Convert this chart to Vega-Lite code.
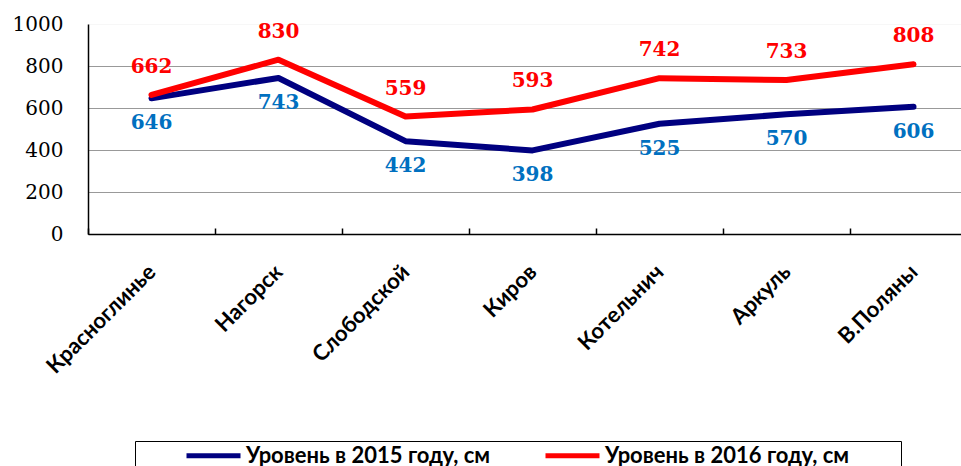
{
  "$schema": "https://vega.github.io/schema/vega-lite/v6.json",
  "autosize": {"type": "none"},
  "width": 873,
  "height": 210,
  "padding": {"left": 88, "top": 24, "right": 0, "bottom": 232},
  "background": "white",
  "config": {"view": {"stroke": null}},
  "data": {
    "values": [
      {"city": "Красноглинье", "year": 2015, "series": "Уровень в 2015 году, см", "value": 646},
      {"city": "Нагорск", "year": 2015, "series": "Уровень в 2015 году, см", "value": 743},
      {"city": "Слободской", "year": 2015, "series": "Уровень в 2015 году, см", "value": 442},
      {"city": "Киров", "year": 2015, "series": "Уровень в 2015 году, см", "value": 398},
      {"city": "Котельнич", "year": 2015, "series": "Уровень в 2015 году, см", "value": 525},
      {"city": "Аркуль", "year": 2015, "series": "Уровень в 2015 году, см", "value": 570},
      {"city": "В.Поляны", "year": 2015, "series": "Уровень в 2015 году, см", "value": 606},
      {"city": "Красноглинье", "year": 2016, "series": "Уровень в 2016 году, см", "value": 662},
      {"city": "Нагорск", "year": 2016, "series": "Уровень в 2016 году, см", "value": 830},
      {"city": "Слободской", "year": 2016, "series": "Уровень в 2016 году, см", "value": 559},
      {"city": "Киров", "year": 2016, "series": "Уровень в 2016 году, см", "value": 593},
      {"city": "Котельнич", "year": 2016, "series": "Уровень в 2016 году, см", "value": 742},
      {"city": "Аркуль", "year": 2016, "series": "Уровень в 2016 году, см", "value": 733},
      {"city": "В.Поляны", "year": 2016, "series": "Уровень в 2016 году, см", "value": 808}
    ]
  },
  "encoding": {
    "x": {
      "field": "city",
      "type": "nominal",
      "sort": null,
      "bandPosition": 0.5,
      "scale": {"type": "band", "range": [0, 889], "paddingInner": 0, "paddingOuter": 0},
      "axis": {
        "title": null,
        "labelAngle": -45,
        "labelAlign": "right",
        "labelBaseline": "middle",
        "labelFont": "Lato",
        "labelFontWeight": "bold",
        "labelFontSize": 22,
        "labelColor": "black",
        "labelPadding": 40,
        "labelLimit": 300,
        "tickBand": "extent",
        "tickSize": -6,
        "tickColor": "black",
        "tickWidth": 1.5,
        "domainColor": "black",
        "domainWidth": 1.5,
        "grid": false
      }
    },
    "y": {
      "field": "value",
      "type": "quantitative",
      "scale": {"domain": [0, 1000]},
      "axis": {
        "title": null,
        "format": "d",
        "values": [0, 200, 400, 600, 800, 1000],
        "labelFont": "DejaVu Serif",
        "labelFontSize": 20,
        "labelColor": "black",
        "labelPadding": 25,
        "ticks": false,
        "domainColor": "black",
        "domainWidth": 1.5,
        "gridColor": {"condition": {"test": "datum.value == 1000", "value": "#eeeeee"}, "value": "#333333"},
        "gridDash": [1, 1],
        "gridWidth": 1
      }
    }
  },
  "layer": [
    {
      "mark": {"type": "line", "strokeWidth": 6, "strokeCap": "round", "strokeJoin": "round"},
      "encoding": {
        "color": {
          "field": "series",
          "type": "nominal",
          "sort": null,
          "scale": {"domain": ["Уровень в 2015 году, см", "Уровень в 2016 году, см"], "range": ["#000080", "#ff0000"]},
          "legend": {
            "orient": "none",
            "legendX": 47,
            "legendY": 417,
            "direction": "horizontal",
            "title": " ",
            "titleOrient": "left",
            "titleFontSize": 1,
            "titlePadding": 46,
            "strokeColor": "black",
            "padding": 3,
            "symbolType": "M-1,0H5",
            "symbolSize": 324,
            "symbolStrokeWidth": 5,
            "labelFont": "Lato",
            "labelFontWeight": "bold",
            "labelFontSize": 22,
            "labelColor": "black",
            "labelOffset": 39,
            "labelLimit": 500,
            "columnPadding": -4,
            "labelExpr": "datum.label + '\u2800\u2800\u2800'"
          }
        }
      }
    },
    {
      "transform": [{"filter": "datum.year == 2015"}],
      "mark": {"type": "text", "dy": 25, "font": "DejaVu Serif", "fontWeight": "bold", "fontSize": 20, "color": "#0070C0", "baseline": "middle"},
      "encoding": {"text": {"field": "value", "type": "quantitative"}}
    },
    {
      "transform": [{"filter": "datum.year == 2016"}],
      "mark": {"type": "text", "dy": -28, "font": "DejaVu Serif", "fontWeight": "bold", "fontSize": 20, "color": "#ff0000", "baseline": "middle"},
      "encoding": {"text": {"field": "value", "type": "quantitative"}}
    }
  ]
}
